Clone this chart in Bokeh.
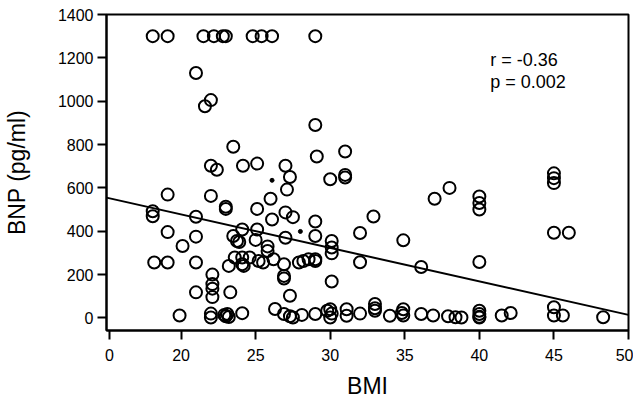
from bokeh.plotting import figure
from bokeh.models import Range1d, FixedTicker, Label, ColumnDataSource
from bokeh.embed import file_html
from bokeh.resources import INLINE

# ---- data (BMI, BNP pg/ml) ----
bmi = [
    18.1, 19.1, 21.5, 22.2, 22.8, 23.0, 24.8, 25.4, 26.1, 29.0,
    21.0, 22.0, 21.6, 29.0, 23.5, 29.1, 31.0, 22.0, 22.4, 24.15, 25.1, 27.0,
    27.3, 30.0, 31.0, 31.0, 27.1, 38.0, 45.0, 45.0, 45.0, 40.0, 40.0, 40.0, 37.0,
    19.1, 22.0, 26.0, 23.0, 23.0, 25.1, 18.1, 18.1, 21.0, 27.0, 27.5, 26.1, 29.0,
    32.9, 25.1, 24.1, 19.1, 27.0, 29.0, 23.5, 21.0, 23.75, 23.9, 25.0, 30.1, 30.1,
    30.1, 32.0, 34.9, 20.1, 25.8, 25.8, 45.0, 46.0, 36.1, 32.0, 40.0, 24.6, 23.6,
    24.1, 24.1, 23.2, 24.2, 25.2, 25.5, 26.2, 26.9, 27.9, 28.2, 28.55, 29.0, 29.0,
    18.2, 19.1, 21.0, 26.9, 26.9, 30.1, 22.1, 22.1, 22.1, 22.1, 21.0, 23.3, 27.3,
    19.9, 22.0, 22.0, 22.9, 23.0, 23.1, 23.2, 24.1, 26.3, 26.9, 27.3, 27.5, 28.1,
    29.0, 29.8, 30.0, 30.1, 30.0, 31.1, 31.1, 32.0, 33.0, 33.0, 33.0, 34.0, 34.8,
    34.9, 34.9, 36.1, 36.9, 37.9, 38.4, 38.8, 40.0, 40.0, 40.0, 40.0, 41.5, 42.1,
    45.0, 45.0, 45.6, 48.3,
]
bnp = [
    1300, 1300, 1300, 1300, 1300, 1300, 1300, 1300, 1300, 1300,
    1130, 1005, 977, 890, 790, 745, 768, 702, 684, 702, 712, 702,
    650, 640, 660, 648, 592, 600, 667, 645, 622, 560, 530, 500, 550,
    569, 563, 550, 513, 503, 503, 492, 469, 467, 487, 465, 454, 445,
    468, 408, 408, 396, 370, 378, 378, 375, 355, 350, 360, 355, 325,
    298, 392, 358, 332, 330, 309, 393, 393, 235, 257, 258, 279, 279,
    279, 248, 240, 240, 263, 256, 271, 248, 256, 263, 271, 271, 263,
    256, 256, 256, 194, 182, 168, 200, 156, 135, 96, 118, 118, 102,
    11, 20, 2, 14, 8, 18, 4, 22, 41, 18, 8, 2, 14,
    18, 33, 40, 20, 2, 40, 10, 20, 64, 45, 33, 10, 23,
    40, 11, 18, 11, 8, 3, 2, 33, 18, 5, 2, 11, 23,
    49, 11, 11, 3,
]
dot_bmi = [26.1, 28.0]
dot_bnp = [635, 399]

# regression line end points (BMI axis units, BNP)
reg_bmi = [15.0, 50.0]
reg_bnp = [555, 14]

x_ticks = [15.2, 20, 25, 30, 35, 40, 45, 50]
x_tick_labels = ["0", "20", "25", "30", "35", "40", "45", "50"]
y_ticks = [0, 200, 400, 600, 800, 1000, 1200, 1400]

stats_lines = ["r = -0.36", "p = 0.002"]

FONT = "Liberation Sans"

p = figure(width=633, height=401, output_backend="svg", toolbar_location=None,
           x_range=Range1d(15.0, 50.0), y_range=Range1d(-58, 1400),
           min_border_left=106, min_border_right=5, min_border_top=14,
           min_border_bottom=69)
p.grid.visible = False
p.outline_line_color = "black"
p.outline_line_width = 2
p.background_fill_color = "white"
p.border_fill_color = "white"

src = ColumnDataSource(dict(x=bmi, y=bnp))
p.scatter("x", "y", source=src, size=12, marker="circle", fill_color=None,
          line_color="black", line_width=2)
p.scatter(dot_bmi, dot_bnp, size=4, marker="circle", fill_color="black",
          line_color="black")
p.line(reg_bmi, reg_bnp, line_color="black", line_width=2)

for ax in (p.xaxis[0], p.yaxis[0]):
    ax.axis_line_width = 2
    ax.major_tick_line_width = 2
    ax.major_tick_out = 9
    ax.major_tick_in = 0
    ax.minor_tick_line_color = None
    ax.major_label_text_font = FONT
    ax.major_label_text_font_size = "16px"
    ax.major_label_text_color = "black"
    ax.axis_label_text_font = FONT
    ax.axis_label_text_font_size = "23px"
    ax.axis_label_text_font_style = "normal"
    ax.axis_label_text_color = "black"

p.xaxis.ticker = FixedTicker(ticks=x_ticks)
p.xaxis.major_label_overrides = dict(zip(x_ticks, x_tick_labels))
p.xaxis.axis_label = "BMI"
p.xaxis.major_label_standoff = 9
p.xaxis.axis_label_standoff = 9

p.yaxis.ticker = FixedTicker(ticks=y_ticks)
p.yaxis.axis_label = "BNP (pg/ml)"
p.yaxis.major_label_standoff = 4
p.yaxis.axis_label_standoff = 25

p.add_layout(Label(x=40.73, y=1189, text=stats_lines[0], text_font=FONT,
                   text_font_size="18px", text_baseline="alphabetic",
                   text_color="black"))
p.add_layout(Label(x=40.73, y=1088, text=stats_lines[1], text_font=FONT,
                   text_font_size="18px", text_baseline="alphabetic",
                   text_color="black"))

open("out.html", "w").write(file_html(p, INLINE))
